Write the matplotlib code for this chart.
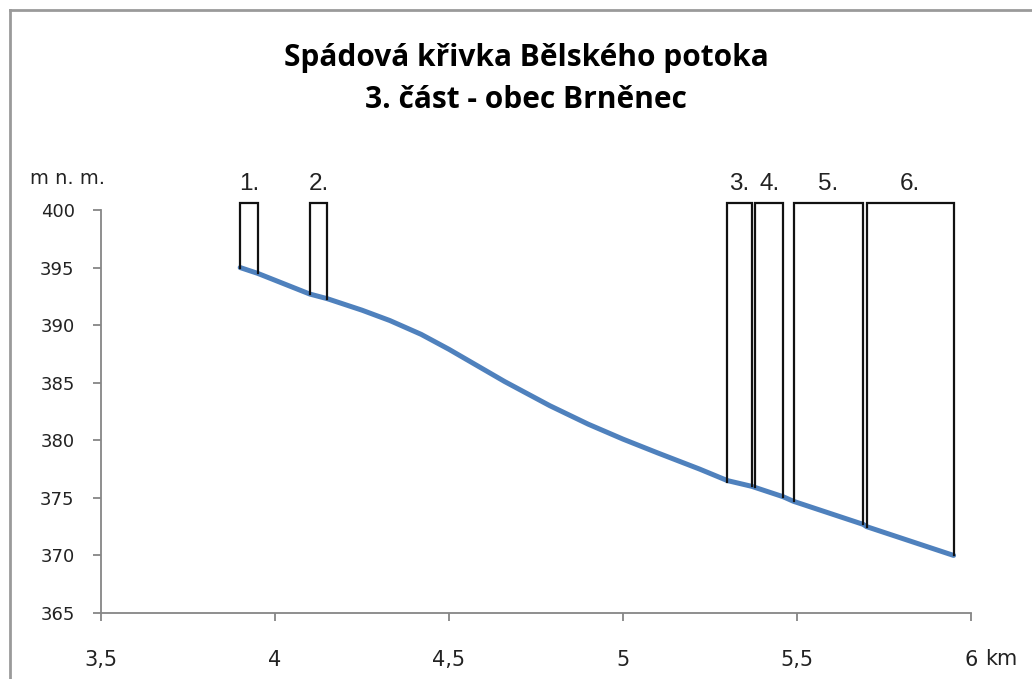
import matplotlib
matplotlib.use('Agg')
import matplotlib.pyplot as plt
from matplotlib.lines import Line2D

# ---- data ----
km = [3.90, 3.95, 4.10, 4.15, 4.25, 4.33, 4.42, 4.50, 4.58, 4.66, 4.79, 4.90,
      5.00, 5.10, 5.22, 5.30, 5.37, 5.38, 5.46, 5.49, 5.69, 5.70, 5.95]
elev = [395.0, 394.5, 392.7, 392.3, 391.3, 390.4, 389.2, 387.9, 386.5, 385.1, 383.0, 381.4,
        380.1, 378.9, 377.5, 376.5, 376.0, 375.9, 375.1, 374.7, 372.7, 372.5, 370.0]

box_labels = ["1.", "2.", "3.", "4.", "5.", "6."]
box_left = [3.90, 4.10, 5.30, 5.38, 5.49, 5.70]
box_right = [3.95, 4.15, 5.37, 5.46, 5.69, 5.95]
box_left_bottom = [395.0, 392.7, 376.4, 375.9, 374.7, 372.5]
box_right_bottom = [394.5, 392.3, 376.0, 375.1, 372.7, 370.0]
box_top = 400.6

y_ticks = [365, 370, 375, 380, 385, 390, 395, 400]
x_ticks = [3.5, 4.0, 4.5, 5.0, 5.5, 6.0]
x_tick_labels = ["3,5", "4", "4,5", "5", "5,5", "6"]

title1 = "Spádová křivka Bělského potoka"
title2 = "3. část - obec Brněnec"

W, H = 1032, 679
fig = plt.figure(figsize=(W / 100, H / 100), dpi=100)
fig.patch.set_facecolor('white')
ax = fig.add_axes([101 / W, 66 / H, 870 / W, 403 / H])

ax.plot(km, elev, color='#4F81BD', lw=3.6, solid_capstyle='round',
        solid_joinstyle='round', zorder=2)

for lab, l, r, lb, rb in zip(box_labels, box_left, box_right,
                             box_left_bottom, box_right_bottom):
    ax.plot([l, l, r, r], [lb, box_top, box_top, rb], color='#111111', lw=1.6,
            clip_on=False, zorder=3, solid_joinstyle='miter')
    ax.text((l + r) / 2, 402.3, lab, ha='center', va='center', fontsize=17.5,
            family='Liberation Sans', color='#222222', clip_on=False)

ax.set_xlim(3.5, 6.0)
ax.set_ylim(365, 400)
ax.set_xticks(x_ticks)
ax.set_xticklabels(x_tick_labels)
ax.set_yticks(y_ticks)

for s in ['top', 'right']:
    ax.spines[s].set_visible(False)
for s in ['left', 'bottom']:
    ax.spines[s].set_color('#868686')
    ax.spines[s].set_linewidth(1.3)

ax.tick_params(axis='both', direction='out', length=6, width=1.3, color='#868686',
               labelcolor='#222222')
ax.tick_params(axis='x', pad=21, labelsize=15)
ax.tick_params(axis='y', pad=13, labelsize=13)
for t in ax.get_xticklabels() + ax.get_yticklabels():
    t.set_family('DejaVu Sans')

fig.text(30 / W, 1 - 179 / H, "m n. m.", fontsize=14, family='DejaVu Sans',
         ha='left', va='center', color='#222222')
fig.text(985 / W, 1 - 659 / H, "km", fontsize=15, family='DejaVu Sans',
         ha='left', va='center', color='#222222')

fig.text(526 / W, 1 - 58 / H, title1, fontsize=21.5, family='Open Sans',
         weight='bold', ha='center', va='center', color='black')
fig.text(526 / W, 1 - 100 / H, title2, fontsize=21.5, family='Open Sans',
         weight='bold', ha='center', va='center', color='black')

# chart frame (left and top edges visible)
fig.add_artist(Line2D([10 / W, 10 / W], [0, 1 - 10 / H], color='#9A9A9A', lw=2,
                      transform=fig.transFigure))
fig.add_artist(Line2D([10 / W, 1], [1 - 10 / H, 1 - 10 / H], color='#9A9A9A', lw=2,
                      transform=fig.transFigure))

fig.savefig('out.png', dpi=100)
